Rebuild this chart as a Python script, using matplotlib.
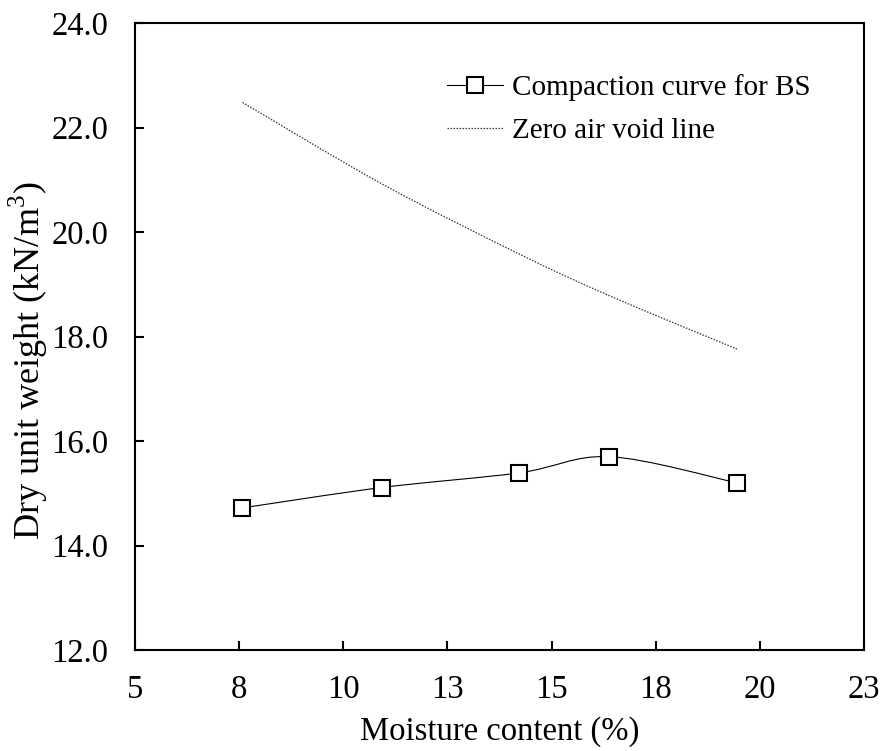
"""
Curva de compactación (BS) y línea de cero vacíos de aire.
Guarda la figura en out.png.
"""

import matplotlib
matplotlib.use('Agg')
import matplotlib.pyplot as plt
from matplotlib.path import Path
from matplotlib.patches import PathPatch
from matplotlib.lines import Line2D
import numpy as np


# ---------------------------------------------------------------------------
# Datos
# ---------------------------------------------------------------------------

moisture = [7.58, 10.93, 14.22, 16.39, 19.45]          # %
dry_unit_weight = [14.72, 15.11, 15.39, 15.70, 15.20]  # kN/m3
zero_air_void = [22.48, 20.92, 19.58, 18.78, 17.76]    # kN/m3

x_ticks = [5, 7.5, 10, 12.5, 15, 17.5, 20, 22.5]
x_tick_labels = ["5", "8", "10", "13", "15", "18", "20", "23"]
y_ticks = [12, 14, 16, 18, 20, 22, 24]
y_tick_labels = ["12.0", "14.0", "16.0", "18.0", "20.0", "22.0", "24.0"]


def smooth_path(xs, ys):
    """Trazo suavizado estilo Excel (Bezier con tangentes Catmull-Rom)."""
    pts = np.column_stack([xs, ys]).astype(float)
    n = len(pts)
    verts = [pts[0]]
    codes = [Path.MOVETO]
    for i in range(n - 1):
        p0 = pts[i - 1] if i > 0 else pts[i]
        p1 = pts[i]
        p2 = pts[i + 1]
        p3 = pts[i + 2] if i + 2 < n else pts[i + 1]
        c1 = p1 + (p2 - p0) / 6.0
        c2 = p2 - (p3 - p1) / 6.0
        verts += [c1, c2, p2]
        codes += [Path.CURVE4] * 3
    return Path(verts, codes)


# ---------------------------------------------------------------------------
# Gráfica
# ---------------------------------------------------------------------------

plt.rcParams['font.family'] = ['Liberation Serif', 'DejaVu Serif']
plt.rcParams['mathtext.fontset'] = 'custom'
plt.rcParams['mathtext.rm'] = 'Liberation Serif'

FS = 23.5

fig = plt.figure(figsize=(8.84, 7.51), dpi=100)
ax = fig.add_axes([135 / 884, 101 / 751, 729 / 884, 627 / 751])

# línea de cero vacíos (punteada, suavizada)
ax.add_patch(PathPatch(smooth_path(moisture, zero_air_void), facecolor='none',
                       edgecolor='#333333', lw=0.9, linestyle=(0, (1.2, 1.2))))

# curva de compactación (suavizada) + marcadores
ax.add_patch(PathPatch(smooth_path(moisture, dry_unit_weight), facecolor='none',
                       edgecolor='black', lw=0.8))
ax.plot(moisture, dry_unit_weight, linestyle='none', marker='s', ms=11.5,
        mfc='white', mec='black', mew=1.5, zorder=3)

ax.set_xlim(5, 22.5)
ax.set_ylim(12, 24)
ax.set_xticks(x_ticks)
ax.set_xticklabels(x_tick_labels)
ax.set_yticks(y_ticks)
ax.set_yticklabels(y_tick_labels)

ax.tick_params(direction='in', length=6.5, width=1.5, labelsize=FS)
ax.tick_params(axis='x', pad=18)
ax.tick_params(axis='y', pad=19)
for s in ax.spines.values():
    s.set_linewidth(1.5)

ax.set_xlabel("Moisture content (%)", fontsize=FS, labelpad=8)
ax.set_ylabel("Dry unit weight (kN/m$^3$)", fontsize=26)
ax.yaxis.set_label_coords(-0.116, 0.461)

handles = [
    Line2D([], [], color='black', lw=0.8, marker='s', ms=11.5, mfc='white',
           mec='black', mew=1.5),
    Line2D([], [], color='#333333', lw=0.9, linestyle=(0, (1.2, 1.2))),
]
ax.legend(handles, ["Compaction curve for BS", "Zero air void line"],
          loc='upper left', bbox_to_anchor=(0.428, 0.919), frameon=False,
          fontsize=21, handlelength=1.92, handletextpad=0.31,
          labelspacing=0.57, borderaxespad=0, borderpad=0)

fig.savefig("out.png", dpi=100)
